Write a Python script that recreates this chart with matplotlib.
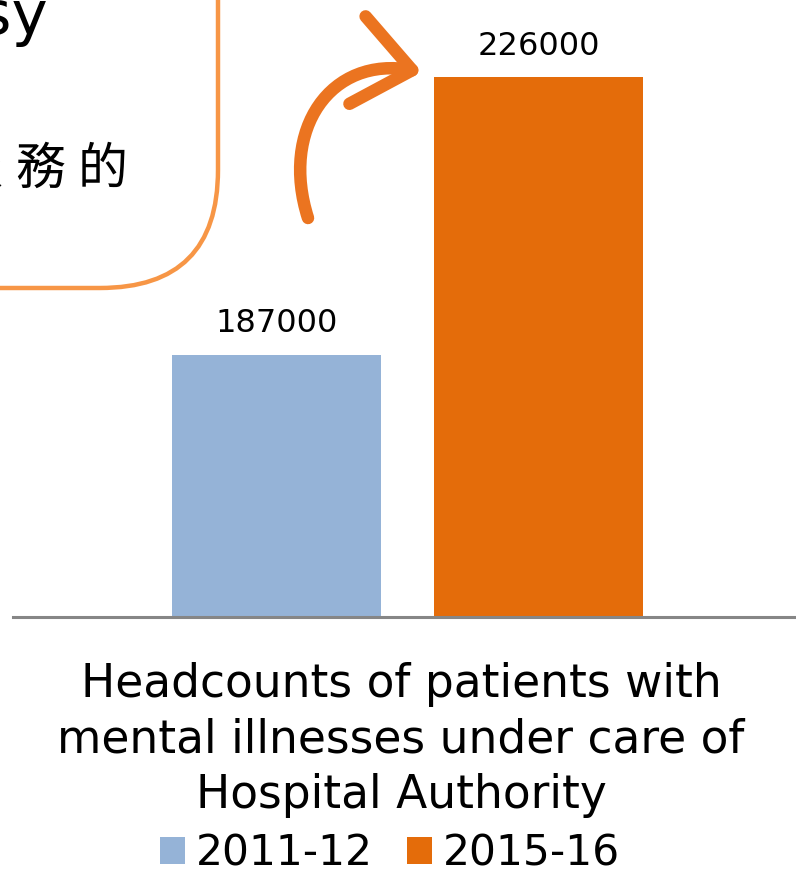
import matplotlib
matplotlib.use("Agg")
import matplotlib.pyplot as plt
from matplotlib.patches import FancyBboxPatch, FancyArrowPatch
from matplotlib.path import Path

plt.rcParams['font.family'] = ['DejaVu Sans', 'Noto Sans CJK TC']

series = ['2011-12', '2015-16']
values = [187000, 226000]
colors = ['#95B3D7', '#E46C0A']
title = 'Headcounts of patients with\nmental illnesses under care of\nHospital Authority'
callout_cn = ['服', '務', '的']

W, H = 796, 874
fig = plt.figure(figsize=(W / 100, H / 100), dpi=100)

# main bar axes, positioned in pixel terms
ax = fig.add_axes([13 / W, 1 - 617 / H, 783 / W, 617 / H])
bars = []
for i, (s, v, c) in enumerate(zip(series, values, colors)):
    b = ax.bar(i, v, width=0.8, color=c, label=s, zorder=2)
    ax.bar_label(b, labels=[str(v)], padding=11, fontsize=23, color='#000000')
    bars.append(b)
ax.set_xlim(-1.006, 1.983)
ax.set_ylim(150100, 236900)
for side in ['top', 'right', 'left']:
    ax.spines[side].set_visible(False)
ax.spines['bottom'].set_color('#868686')
ax.spines['bottom'].set_linewidth(2.2)
ax.set_xticks([])
ax.set_yticks([])

fig.text(401 / W, 1 - 740 / H, title, ha='center', va='center',
         fontsize=32.8, linespacing=1.3)

fig.legend(handles=[b[0] for b in bars], labels=series, loc='center',
           bbox_to_anchor=(390 / W, 1 - 853 / H), ncol=2, frameon=False,
           fontsize=30.5, handlelength=0.6, handleheight=0.6,
           handletextpad=0.25, columnspacing=0.8, borderpad=0, borderaxespad=0)

# overlay in pixel coordinates for the callout box and arrow
ov = fig.add_axes([0, 0, 1, 1], zorder=5)
ov.set_xlim(0, W)
ov.set_ylim(H, 0)
ov.axis('off')
ov.patch.set_alpha(0)

box = FancyBboxPatch((-200, -200), 418, 488,
                     boxstyle='round,pad=0,rounding_size=118',
                     facecolor='white', edgecolor='#F79646', linewidth=3.2)
ov.add_patch(box)
ov.text(48, 34, 'Psy', ha='right', va='baseline', fontsize=44)
for k, ch in enumerate(reversed(callout_cn)):
    ov.text(103 - 63 * k, 170, ch, ha='center', va='center',
            fontsize=36, family=['Noto Sans CJK TC', 'DejaVu Sans'])

curve = Path([(308, 218), (280, 130), (330, 55), (422, 72)],
             [Path.MOVETO, Path.CURVE4, Path.CURVE4, Path.CURVE4])
arrow = FancyArrowPatch(path=curve,
                        arrowstyle='->,head_length=2.0,head_width=1.6',
                        mutation_scale=20, color='#EB7420', linewidth=9,
                        capstyle='round', joinstyle='round',
                        transform=ov.transData)
ov.add_patch(arrow)

fig.savefig('out.png', dpi=100)
